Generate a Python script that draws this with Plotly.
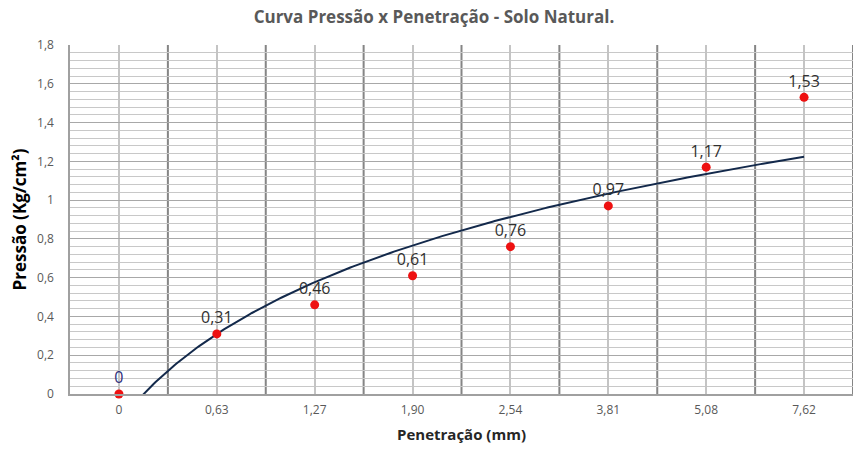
import numpy as np
import plotly.graph_objects as go

categories = ["0", "0,63", "1,27", "1,90", "2,54", "3,81", "5,08", "7,62"]
pressao = [0, 0.31, 0.46, 0.61, 0.76, 0.97, 1.17, 1.53]
labels = ["0", "0,31", "0,46", "0,61", "0,76", "0,97", "1,17", "1,53"]
label_colors = ["#2e2e7a", "#303030", "#303030", "#303030", "#303030", "#303030", "#303030", "#303030"]

idx = np.arange(1, len(categories) + 1)

# Excel-style logarithmic trendline fitted on category index
a, b = np.polyfit(np.log(idx), np.array(pressao), 1)
xt = np.linspace(1, len(categories), 300)
yt = a * np.log(xt) + b

fig = go.Figure()
fig.add_trace(go.Scatter(x=xt, y=yt, mode="lines",
                         line=dict(color="#13294b", width=2),
                         hoverinfo="skip", showlegend=False))
fig.add_trace(go.Scatter(x=idx, y=pressao, mode="markers+text",
                         marker=dict(color="#ee1111", size=9),
                         text=labels, textposition="top center",
                         textfont=dict(family="Open Sans", size=16, color=label_colors),
                         cliponaxis=False, showlegend=False))

# category boundary lines (darker), drawn above the horizontal grid
for bnd in idx + 0.5:
    fig.add_shape(type="line", xref="x", yref="paper", x0=bnd, x1=bnd, y0=0, y1=1,
                  line=dict(color="#858585", width=2), layer="between")

fig.update_layout(
    width=856, height=450,
    margin=dict(l=70, r=3, t=45, b=56),
    paper_bgcolor="white", plot_bgcolor="white",
    separators=",.",
    title=dict(text="<b>Curva Pressão x Penetração - Solo Natural.</b>",
               x=0.507, xanchor="center", y=0.975, yanchor="top",
               font=dict(family="Open Sans", size=17, color="#595959")),
    xaxis=dict(range=[0.5, len(categories) + 0.5],
               tickmode="array", tickvals=list(idx), ticktext=categories,
               showgrid=True, gridcolor="#c4c4c4", gridwidth=1.5,
               showline=True, linecolor="#a0a0a0", linewidth=1.5,
               zeroline=False, ticks="", ticklabelstandoff=4,
               tickfont=dict(family="Open Sans", size=12, color="#595959"),
               title=dict(text="<b>Penetração (mm)</b>", standoff=12,
                          font=dict(family="Open Sans", size=15, color="#262626"))),
    yaxis=dict(range=[0, 1.8], dtick=0.2, tick0=0,
               showgrid=True, gridcolor="#a8a8a8", gridwidth=1.2,
               minor=dict(dtick=0.04, showgrid=True, gridcolor="#c8c8c8", gridwidth=1),
               showline=True, linecolor="#a0a0a0", linewidth=1.5,
               zeroline=False, ticks="", ticklabelstandoff=12,
               tickfont=dict(family="Open Sans", size=12, color="#595959"),
               title=dict(text="<b>Pressão (Kg/cm²)</b>", standoff=6,
                          font=dict(family="Open Sans", size=17, color="#000000"))),
)

fig.write_html("out.html")
